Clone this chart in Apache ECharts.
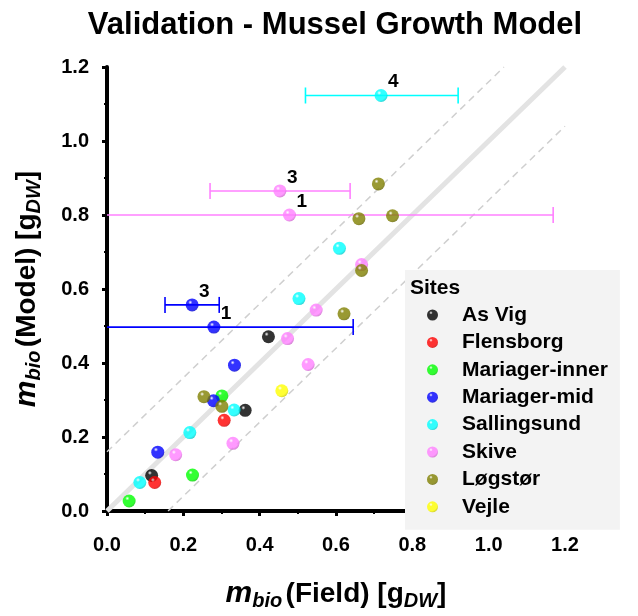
<!DOCTYPE html>
<html>
<head>
<meta charset="utf-8">
<script src="https://cdn.jsdelivr.net/npm/echarts@6/dist/echarts.min.js"></script>
<style>
  html, body { margin: 0; padding: 0; background: #fff; }
  #chart { width: 638px; height: 616px; }
</style>
</head>
<body>
<div id="chart"></div>
<script>
// site names, in legend order
var sites = ['As Vig', 'Flensborg', 'Mariager-inner', 'Mariager-mid', 'Sallingsund', 'Skive', 'Løgstør', 'Vejle']

// [field, model] per site
var asVig = [[0.423, 0.471], [0.362, 0.272], [0.117, 0.096]]
var flensborg = [[0.307, 0.245], [0.125, 0.077]]
var mariagerInner = [[0.301, 0.311], [0.224, 0.097], [0.058, 0.027]]
var mariagerMid = [[0.223, 0.557], [0.280, 0.497], [0.334, 0.394], [0.279, 0.298], [0.133, 0.159]]
var sallingsund = [[0.718, 1.123], [0.609, 0.710], [0.503, 0.574], [0.333, 0.273], [0.217, 0.212], [0.086, 0.077]]
var skive = [[0.453, 0.865], [0.478, 0.800], [0.667, 0.666], [0.548, 0.543], [0.473, 0.466], [0.527, 0.396], [0.330, 0.183], [0.180, 0.152]]
var logstor = [[0.711, 0.884], [0.748, 0.798], [0.660, 0.790], [0.667, 0.650], [0.621, 0.533], [0.254, 0.309], [0.301, 0.283]]
var vejle = [[0.458, 0.325]]
var siteData = [asVig, flensborg, mariagerInner, mariagerMid, sallingsund, skive, logstor, vejle]

// horizontal error bars: [field, model, low, high, site index]
var errBars = [
  [0.718, 1.123, 0.520, 0.920, 4],
  [0.453, 0.865, 0.270, 0.637, 5],
  [0.478, 0.800, -0.210, 1.169, 5],
  [0.223, 0.557, 0.152, 0.294, 3],
  [0.280, 0.497, -0.085, 0.645, 3]
]
var errLabels = ['4', '3', '1', '3', '1']

// 1:1 line and the dashed band
var oneToOne = [[0, 0], [1.2, 1.2]]
var upperBand = [[0, 0.16], [1.04, 1.2]]
var lowerBand = [[0.16, 0], [1.2, 1.04]]

var xTicks = ['0.0', '0.2', '0.4', '0.6', '0.8', '1.0', '1.2']

var colors = ['#000000', '#ff0000', '#00ff00', '#0000ff', '#00ffff', '#ff80ff', '#808000', '#ffff00']
var FONT = 'Liberation Sans'

function shade(hex, k) {
  var n = parseInt(hex.slice(1), 16)
  var r = Math.round(((n >> 16) & 255) * k), g = Math.round(((n >> 8) & 255) * k), b = Math.round((n & 255) * k)
  return 'rgb(' + r + ',' + g + ',' + b + ')'
}
// shaded sphere look
function ball(c) {
  return {
    type: 'radial', x: 0.36, y: 0.3, r: 0.8,
    colorStops: [
      { offset: 0, color: '#ffffff' },
      { offset: 0.2, color: c },
      { offset: 0.7, color: c },
      { offset: 1, color: shade(c, 0.7) }
    ]
  }
}

var chart = echarts.init(document.getElementById('chart'))

var series = [
  { type: 'line', data: oneToOne, symbol: 'none', silent: true, z: 1,
    lineStyle: { color: '#e3e3e3', width: 5 } },
  { type: 'line', data: upperBand, symbol: 'none', silent: true, z: 1,
    lineStyle: { color: '#cfcfcf', width: 1.5, type: [7, 5] } },
  { type: 'line', data: lowerBand, symbol: 'none', silent: true, z: 1,
    lineStyle: { color: '#cfcfcf', width: 1.5, type: [7, 5] } },
  { type: 'custom', data: errBars, clip: true, z: 2, silent: true,
    renderItem: function(params, api) {
      var y = api.value(1)
      var pt = api.coord([api.value(0), y])
      var a = api.coord([api.value(2), y])
      var b = api.coord([api.value(3), y])
      var c = colors[api.value(4)]
      var cap = 8
      return {
        type: 'group',
        children: [
          { type: 'line', shape: { x1: a[0], y1: a[1], x2: b[0], y2: b[1] }, style: { stroke: c, lineWidth: 1.6 } },
          { type: 'line', shape: { x1: a[0], y1: a[1] - cap, x2: a[0], y2: a[1] + cap }, style: { stroke: c, lineWidth: 1.6 } },
          { type: 'line', shape: { x1: b[0], y1: b[1] - cap, x2: b[0], y2: b[1] + cap }, style: { stroke: c, lineWidth: 1.6 } },
          { type: 'text', x: pt[0] + 7, y: pt[1] - 4,
            style: { text: errLabels[params.dataIndex], fill: '#000', font: 'bold 19px ' + FONT, verticalAlign: 'bottom' } }
        ]
      }
    } }
]
sites.forEach(function(name, i) {
  series.push({
    name: name, type: 'scatter', data: siteData[i], symbolSize: 13, z: 3,
    itemStyle: { color: ball(colors[i]) }
  })
})

var nameRich = {
  m: { fontFamily: FONT, fontSize: 30, fontStyle: 'italic', fontWeight: 'bold', color: '#000' },
  s: { fontFamily: FONT, fontSize: 20, fontStyle: 'italic', fontWeight: 'bold', color: '#000', padding: [14, 0, 0, 0] },
  n: { fontFamily: FONT, fontSize: 28, fontWeight: 'bold', color: '#000' }
}

chart.setOption({
  animation: false,
  title: [
    { text: 'Validation - Mussel Growth Model', left: 330, top: 5, textAlign: 'center',
      textStyle: { fontFamily: FONT, fontSize: 31, fontWeight: 'bold', color: '#000' } },
    { text: 'Sites', left: 410, top: 278, padding: 0,
      textStyle: { fontFamily: FONT, fontSize: 21, fontWeight: 'bold', color: '#000' } }
  ],
  legend: {
    data: sites, orient: 'vertical', left: 405, top: 270,
    backgroundColor: '#f3f3f3', padding: [34, 12, 12, 22],
    icon: 'circle', itemWidth: 11, itemHeight: 11, itemGap: 5.4,
    textStyle: { fontFamily: FONT, fontSize: 21, fontWeight: 'bold', color: '#000', lineHeight: 22, padding: [0, 0, 0, 19] }
  },
  grid: { left: 107, right: 73, top: 67, bottom: 97 },
  xAxis: {
    type: 'value', min: 0, max: 1.2, interval: 0.2, offset: 14,
    name: '{m|m}{s|bio} {n|(Field) [g}{s|DW}{n|]}', nameLocation: 'middle', nameGap: 52,
    nameTextStyle: { rich: nameRich },
    axisLine: { show: true, lineStyle: { color: '#000', width: 4 } },
    axisTick: { show: true, length: 5, lineStyle: { color: '#000', width: 3 } },
    minorTick: { show: true, splitNumber: 2, length: 3, lineStyle: { color: '#000', width: 2 } },
    splitLine: { show: false },
    axisLabel: { margin: 10, fontFamily: FONT, fontSize: 20, fontWeight: 'bold', color: '#000',
      formatter: function(v) { return xTicks[Math.round(v / 0.2)] } }
  },
  yAxis: {
    type: 'value', min: 0, max: 1.2, interval: 0.2, offset: 3,
    name: '{m|m}{s|bio} {n|(Model) [g}{s|DW}{n|]}', nameLocation: 'middle', nameRotate: 90, nameGap: 60,
    nameTextStyle: { rich: nameRich },
    axisLine: { show: true, lineStyle: { color: '#000', width: 4 } },
    axisTick: { show: true, length: 5, lineStyle: { color: '#000', width: 3 } },
    minorTick: { show: true, splitNumber: 2, length: 3, lineStyle: { color: '#000', width: 2 } },
    splitLine: { show: false },
    axisLabel: { margin: 15, fontFamily: FONT, fontSize: 20, fontWeight: 'bold', color: '#000',
      formatter: function(v) { return v.toFixed(1) } }
  },
  series: series
})
</script>
</body>
</html>
